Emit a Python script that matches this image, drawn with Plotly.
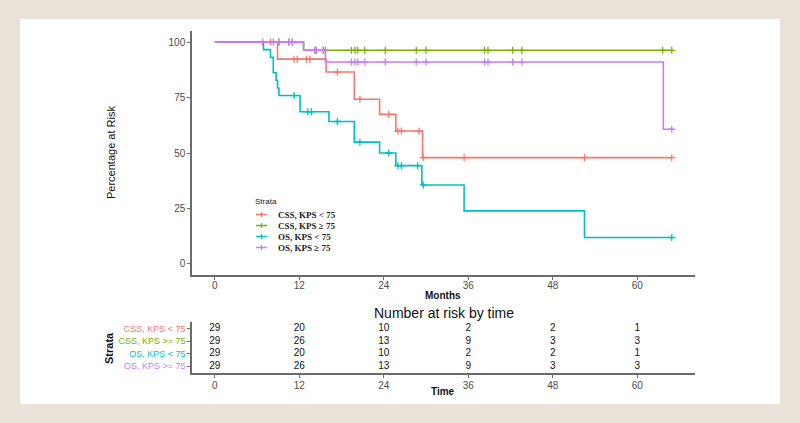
import plotly.graph_objects as go

# ---------------- data ----------------
strata = ["CSS, KPS < 75", "CSS, KPS ≥ 75", "OS, KPS < 75", "OS, KPS ≥ 75"]
table_labels = ["CSS, KPS < 75", "CSS, KPS >= 75", "OS, KPS < 75", "OS, KPS >= 75"]
colors = ["#F8766D", "#7CAE00", "#00BFC4", "#C77CFF"]

# CSS, KPS < 75
css_lo_time = [0, 8.9, 15.8, 19.8, 23.4, 25.7, 29.5, 64.9]
css_lo_surv = [100, 92.3, 86.5, 74.2, 67.4, 59.9, 47.9, 47.9]
css_lo_cens = [6.8, 7.9, 8.3, 11.25, 11.7, 13.0, 13.5, 17.4, 20.6, 24.7, 26.0, 26.5,
               29.0, 29.6, 35.4, 52.5, 64.9]

# CSS, KPS >= 75
css_hi_time = [0, 12.6, 64.9]
css_hi_surv = [100, 96.3, 96.3]
css_hi_cens = [9.1, 10.5, 11.0, 14.2, 14.4, 15.4, 15.7, 19.4, 19.9, 20.3, 21.3, 24.2,
               28.6, 30.0, 38.3, 38.8, 42.3, 43.6, 63.6, 64.9]

# OS, KPS < 75
os_lo_time = [0, 6.9, 7.9, 8.3, 8.7, 8.9, 9.1, 12.1, 16.2, 19.8, 23.4, 25.7, 29.4,
              35.4, 52.5, 64.9]
os_lo_surv = [100, 96.6, 93.1, 86.2, 82.8, 79.3, 75.9, 68.6, 64.2, 54.9, 50.0, 44.3,
              35.6, 23.9, 11.9, 11.9]
os_lo_cens = [11.25, 13.2, 13.7, 17.4, 20.6, 24.7, 26.0, 26.5, 28.8, 29.6, 64.9]

# OS, KPS >= 75
os_hi_time = [0, 12.6, 15.7, 63.7, 64.9]
os_hi_surv = [100, 96.3, 91.0, 60.7, 60.7]
os_hi_cens = [9.1, 10.5, 11.0, 14.2, 14.4, 15.4, 19.4, 19.9, 20.3, 21.3, 24.2, 28.6,
              30.0, 38.3, 38.8, 42.3, 43.6, 64.9]

risk_times = [0, 12, 24, 36, 48, 60]
risk_css_lo = [29, 20, 10, 2, 2, 1]
risk_css_hi = [29, 26, 13, 9, 3, 3]
risk_os_lo = [29, 20, 10, 2, 2, 1]
risk_os_hi = [29, 26, 13, 9, 3, 3]

x_ticks = [0, 12, 24, 36, 48, 60]
y_ticks = [0, 25, 50, 75, 100]

curves = [
    (css_lo_time, css_lo_surv, css_lo_cens),
    (css_hi_time, css_hi_surv, css_hi_cens),
    (os_lo_time, os_lo_surv, os_lo_cens),
    (os_hi_time, os_hi_surv, os_hi_cens),
]
risks = [risk_css_lo, risk_css_hi, risk_os_lo, risk_os_hi]

W, H = 800, 423
def px(x):
    return x / W
def py(y):
    return 1 - y / H

def surv_at(times, surv, t):
    v = surv[0]
    for ti, si in zip(times, surv):
        if ti <= t:
            v = si
    return v

AX = "#6b6b6b"
FONT = "Liberation Sans, Arial, sans-serif"

fig = go.Figure()

for (t, s, c), col, name in zip(curves, colors, strata):
    fig.add_trace(go.Scatter(x=t, y=s, mode="lines", line=dict(color=col, width=1.6, shape="hv"),
                             name=name, showlegend=False, xaxis="x", yaxis="y", hoverinfo="skip"))
    fig.add_trace(go.Scatter(x=c, y=[surv_at(t, s, ci) for ci in c], mode="markers",
                             marker=dict(symbol="cross-thin", size=5, line=dict(color=col, width=1.3)),
                             showlegend=False, xaxis="x", yaxis="y", hoverinfo="skip"))

# risk table
nrow = len(risks)
for i, (r, col) in enumerate(zip(risks, colors)):
    yrow = nrow - i
    fig.add_trace(go.Scatter(x=risk_times, y=[yrow] * len(risk_times), mode="text",
                             text=[str(v) for v in r], textposition="middle center",
                             textfont=dict(family=FONT, size=10, color="#111"),
                             showlegend=False, xaxis="x2", yaxis="y2", hoverinfo="skip"))

xdom = [px(192), px(695)]
axis_common = dict(showline=True, linecolor=AX, linewidth=1.5, ticks="outside", ticklen=3,
                   tickcolor=AX, tickwidth=1, showgrid=False, zeroline=False,
                   tickfont=dict(family=FONT, size=10, color="#4d4d4d"))

ticktext_tab = [f'<span style="color:{c}">{l}</span>' for l, c in zip(table_labels, colors)][::-1]

fig.update_layout(
    width=W, height=H,
    margin=dict(l=0, r=0, t=0, b=0),
    paper_bgcolor="#E8E2D9",
    plot_bgcolor="rgba(0,0,0,0)",
    xaxis=dict(domain=xdom, range=[-3.25, 68.2], tickvals=x_ticks, anchor="y",
               ticklabelstandoff=-3, **axis_common),
    yaxis=dict(domain=[py(275), py(31)], range=[-5, 105], tickvals=y_ticks, anchor="x", **axis_common),
    xaxis2=dict(domain=xdom, range=[-3.25, 68.2], tickvals=x_ticks, anchor="y2",
                ticklabelstandoff=-1, **axis_common),
    yaxis2=dict(domain=[py(373), py(322)], range=[0.44, 4.56], tickvals=[1, 2, 3, 4],
                ticktext=ticktext_tab, anchor="x2", **axis_common),
    shapes=[dict(type="rect", xref="paper", yref="paper", x0=px(20), x1=px(780), y0=py(404), y1=py(19),
                 fillcolor="white", line=dict(width=0), layer="below")],
)
fig.layout.yaxis2.tickfont = dict(family=FONT, size=9)

ann = [
    dict(text="Percentage at Risk", x=px(111), y=py(153), textangle=-90,
         font=dict(family=FONT, size=11, color="#111")),
    dict(text="<b>Months</b>", x=px(443), y=py(295), font=dict(family=FONT, size=10, color="#111")),
    dict(text="Number at risk by time", x=px(444), y=py(313), font=dict(family=FONT, size=14, color="#111")),
    dict(text="<b>Strata</b>", x=px(109), y=py(348), textangle=-90, font=dict(family=FONT, size=11, color="#111")),
    dict(text="<b>Time</b>", x=px(443), y=py(391), font=dict(family=FONT, size=10, color="#111")),
    dict(text="Strata", x=px(253), y=py(201), xanchor="left", font=dict(family=FONT, size=8, color="#222")),
]
shapes = list(fig.layout.shapes)
for i, (name, col) in enumerate(zip(strata, colors)):
    yy = 214.5 + i * 11
    shapes.append(dict(type="line", xref="paper", yref="paper", x0=px(256), x1=px(267), y0=py(yy), y1=py(yy),
                       line=dict(color=col, width=1.5)))
    shapes.append(dict(type="line", xref="paper", yref="paper", x0=px(261.5), x1=px(261.5), y0=py(yy - 2.5), y1=py(yy + 2.5),
                       line=dict(color=col, width=1.3)))
    ann.append(dict(text=f"<b>{name}</b>", x=px(276), y=py(yy), xanchor="left",
                    font=dict(family="Liberation Serif, Times New Roman, serif", size=9, color="#222")))
for a in ann:
    a.update(xref="paper", yref="paper", showarrow=False)
    a.setdefault("xanchor", "center")
    a.setdefault("yanchor", "middle")
fig.update_layout(annotations=ann, shapes=shapes)

fig.write_html("out.html", config={"displayModeBar": False},
               post_script="document.body.style.margin='0px';document.body.style.overflow='hidden';")
